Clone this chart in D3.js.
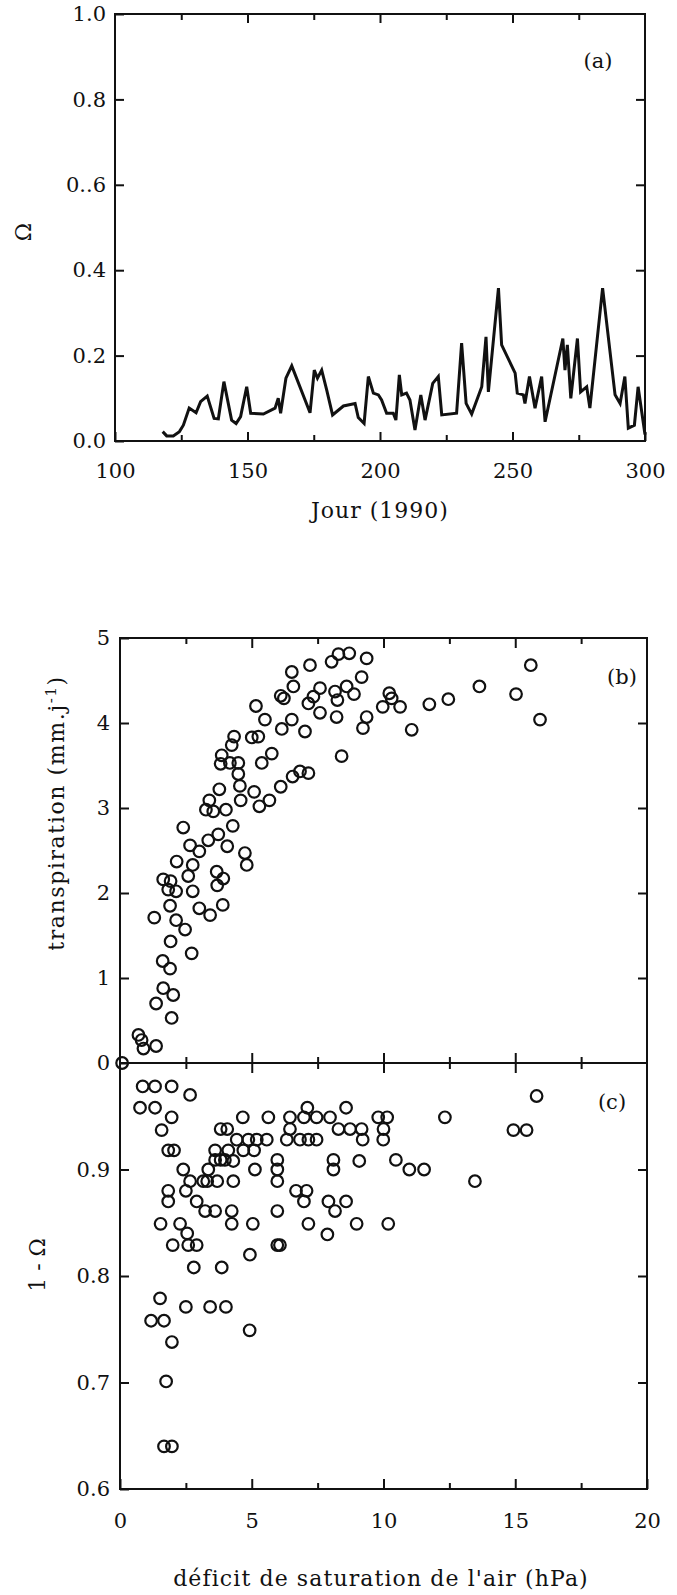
<!DOCTYPE html>
<html>
<head>
<meta charset="utf-8">
<script src="https://cdn.jsdelivr.net/npm/d3@7"></script>
<style>
  body { margin: 0; background: #fff; }
  text { font-family: "DejaVu Serif", "Liberation Serif", serif; fill: #111; }
</style>
</head>
<body>
<script>
// (a) Omega vs day of year
let omegaDays = [118, 119.5, 122, 124.3, 125.8, 128, 130.6, 132.3, 134.8, 137.4,
    139, 141.1, 144, 145.7, 147.4, 149.7, 151.2, 156, 160.4, 161.6,
    162.5, 164.5, 166.7, 173.6, 175.2, 176.4, 178, 179.9, 182.1, 186.2,
    190.6, 191.8, 194, 195.6, 197.5, 199.4, 200.6, 202.5, 205, 206,
    207.3, 208.2, 210, 211.3, 213.2, 215.4, 217, 219.9, 222, 223.3,
    228.9, 230.8, 232.5, 234.6, 238.4, 240, 240.9, 244.7, 245.9, 251,
    251.8, 254.1, 254.7, 256.4, 258.5, 261, 262.3, 269, 269.8, 270.7,
    272, 274.5, 275.7, 278, 279.2, 284, 288.7, 290.6, 292.4, 293.7,
    296, 297.4, 300];
let omegaValues = [0.022, 0.012, 0.012, 0.022, 0.037, 0.077, 0.066, 0.092, 0.105, 0.053,
    0.052, 0.139, 0.049, 0.041, 0.057, 0.127, 0.065, 0.063, 0.077, 0.1,
    0.065, 0.147, 0.176, 0.066, 0.166, 0.147, 0.166, 0.119, 0.061, 0.082,
    0.088, 0.055, 0.041, 0.151, 0.112, 0.108, 0.096, 0.065, 0.065, 0.049,
    0.155, 0.108, 0.112, 0.096, 0.026, 0.108, 0.049, 0.135, 0.151, 0.061,
    0.065, 0.229, 0.088, 0.063, 0.127, 0.244, 0.115, 0.358, 0.225, 0.159,
    0.112, 0.108, 0.088, 0.151, 0.077, 0.151, 0.045, 0.240, 0.166, 0.225,
    0.100, 0.240, 0.115, 0.127, 0.077, 0.358, 0.108, 0.088, 0.151, 0.030,
    0.037, 0.127, 0.015];

// (b) transpiration vs saturation deficit
let deficitB = [0.08, 0.70, 0.82, 0.89, 1.37, 1.37, 1.64, 1.96, 2.02, 1.62,
    1.90, 1.92, 2.72, 1.30, 2.13, 2.47, 1.90, 1.64, 1.92, 2.13,
    1.83, 2.15, 2.40, 2.59, 2.66, 2.76, 2.76, 3.01, 3.01, 3.42,
    3.90, 3.67, 3.69, 3.92, 3.35, 3.73, 4.07, 4.28, 4.74, 4.81,
    3.26, 3.39, 3.54, 3.77, 4.02, 3.86, 3.82, 4.24, 4.33, 4.17,
    4.49, 4.49, 4.55, 4.58, 5.09, 5.29, 5.67, 5.38, 5.76, 5.00,
    5.25, 5.16, 5.50, 6.10, 6.55, 6.83, 7.15, 6.14, 6.10, 6.22,
    6.52, 6.58, 6.52, 7.02, 7.21, 7.15, 7.34, 7.59, 7.59, 8.03,
    8.29, 8.70, 8.16, 8.25, 8.22, 8.60, 8.88, 8.41, 9.17, 9.36,
    9.22, 9.36, 10.22, 10.31, 9.97, 10.63, 11.07, 11.74, 12.46, 13.64,
    15.03, 15.59, 15.94];
let transpiration = [0.0, 0.33, 0.27, 0.17, 0.20, 0.70, 0.88, 0.53, 0.80, 1.20,
    1.11, 1.43, 1.29, 1.71, 1.68, 1.57, 1.85, 2.16, 2.14, 2.02,
    2.04, 2.37, 2.77, 2.20, 2.56, 2.33, 2.02, 2.49, 1.82, 1.74,
    1.86, 2.25, 2.09, 2.17, 2.62, 2.69, 2.55, 2.79, 2.47, 2.33,
    2.98, 3.09, 2.96, 3.22, 2.98, 3.62, 3.52, 3.74, 3.84, 3.53,
    3.53, 3.40, 3.26, 3.09, 3.19, 3.02, 3.09, 3.53, 3.64, 3.83,
    3.84, 4.20, 4.04, 3.25, 3.37, 3.43, 3.41, 3.93, 4.32, 4.29,
    4.04, 4.43, 4.60, 3.90, 4.68, 4.23, 4.31, 4.41, 4.12, 4.72,
    4.81, 4.82, 4.37, 4.27, 4.07, 4.43, 4.34, 3.61, 4.54, 4.76,
    3.94, 4.07, 4.35, 4.29, 4.19, 4.19, 3.92, 4.22, 4.28, 4.43,
    4.34, 4.68, 4.04];

// (c) 1 - Omega vs saturation deficit
let deficitC = [0.86, 1.33, 1.96, 2.66, 0.76, 1.33, 1.96, 1.58, 1.83, 2.05,
    2.40, 2.66, 1.83, 1.83, 2.50, 2.91, 1.54, 2.28, 2.55, 2.00,
    2.59, 2.91, 2.80, 3.86, 1.52, 2.50, 3.42, 4.02, 3.16, 3.31,
    3.69, 4.30, 3.35, 3.61, 3.82, 3.98, 4.30, 3.61, 4.11, 4.68,
    5.09, 3.82, 4.07, 4.43, 4.87, 5.19, 5.57, 4.66, 5.63, 5.12,
    3.23, 3.61, 4.24, 4.24, 5.04, 4.93, 5.97, 5.97, 6.07, 5.97,
    5.97, 5.97, 6.45, 6.45, 6.33, 6.83, 7.15, 7.46, 7.11, 7.46,
    7.97, 6.98, 8.29, 8.58, 8.73, 9.17, 9.21, 9.80, 10.14, 9.99,
    10.00, 8.10, 8.10, 9.08, 6.68, 7.08, 6.98, 7.91, 8.16, 8.58,
    7.15, 8.98, 10.18, 7.87, 10.47, 10.98, 11.54, 12.33, 13.47, 14.93,
    15.43, 15.81, 1.18, 1.67, 1.97, 4.92, 1.75, 1.67, 1.97];
let oneMinusOmega = [0.978, 0.978, 0.978, 0.970, 0.958, 0.958, 0.949, 0.937, 0.918, 0.918,
    0.900, 0.889, 0.880, 0.870, 0.880, 0.870, 0.849, 0.849, 0.840, 0.829,
    0.829, 0.829, 0.808, 0.808, 0.779, 0.771, 0.771, 0.771, 0.889, 0.889,
    0.889, 0.889, 0.900, 0.909, 0.909, 0.909, 0.908, 0.918, 0.918, 0.918,
    0.918, 0.938, 0.938, 0.928, 0.928, 0.928, 0.928, 0.949, 0.949, 0.900,
    0.861, 0.861, 0.861, 0.849, 0.849, 0.820, 0.861, 0.829, 0.829, 0.909,
    0.900, 0.889, 0.949, 0.938, 0.928, 0.928, 0.928, 0.928, 0.958, 0.949,
    0.949, 0.949, 0.938, 0.958, 0.938, 0.938, 0.928, 0.949, 0.949, 0.928,
    0.938, 0.909, 0.900, 0.908, 0.880, 0.880, 0.870, 0.870, 0.861, 0.870,
    0.849, 0.849, 0.849, 0.839, 0.909, 0.900, 0.900, 0.949, 0.889, 0.937,
    0.937, 0.969, 0.758, 0.758, 0.738, 0.749, 0.701, 0.640, 0.640];

// ticks
let dayTicks = [100, 150, 200, 250, 300];
let dayMinorTicks = [125, 175, 225, 275];
let omegaTicks = [0, 0.2, 0.4, 0.6, 0.8, 1.0];
let omegaTickLabels = ["0.0", "0.2", "0.4", "0..6", "0.8", "1.0"];
let deficitTicks = [0, 5, 10, 15, 20];
let deficitMinorTicks = [2.5, 7.5, 12.5, 17.5];
let transpTicks = [0, 1, 2, 3, 4, 5];
let oneMinusTicks = [0.6, 0.7, 0.8, 0.9];

let width = 677;
let height = 1595;
let fontSize = 21;
let ink = "#111";

let svg = d3.select("body")
    .append("svg")
    .attr("width", width)
    .attr("height", height);

let xA = d3.scaleLinear().domain([100, 300]).range([115, 645]);
let yA = d3.scaleLinear().domain([0, 1]).range([441, 14]);
let xB = d3.scaleLinear().domain([0, 20]).range([120, 647]);
let yB = d3.scaleLinear().domain([0, 5]).range([1063, 638]);
let yC = d3.scaleLinear().domain([0.6, 1.0]).range([1489, 1063]);

function styleAxis(g) {
    g.select(".domain").remove();
    g.selectAll("line").attr("stroke", ink).attr("stroke-width", 2);
    g.selectAll("text")
        .attr("font-size", fontSize)
        .attr("font-family", "DejaVu Serif")
        .attr("fill", ink);
}

function addAxis(x, y, axis) {
    svg.append("g")
        .attr("transform", "translate(" + x + "," + y + ")")
        .call(axis)
        .call(styleAxis);
}

function frame(xs, ys) {
    svg.append("rect")
        .attr("x", xs.range()[0])
        .attr("y", ys.range()[1])
        .attr("width", xs.range()[1] - xs.range()[0])
        .attr("height", ys.range()[0] - ys.range()[1])
        .attr("fill", "none")
        .attr("stroke", ink)
        .attr("stroke-width", 2);
}

function scatter(xs, ys, xVals, yVals) {
    svg.append("g")
        .selectAll("circle")
        .data(yVals)
        .enter()
        .append("circle")
            .attr("cx", function(d, i) { return xs(xVals[i]); })
            .attr("cy", function(d) { return ys(d); })
            .attr("r", 5.8)
            .attr("fill", "none")
            .attr("stroke", ink)
            .attr("stroke-width", 2.2);
}

// ---- panel (a)
frame(xA, yA);
addAxis(115, 0, d3.axisLeft(yA).tickValues(omegaTicks).tickSizeInner(-9).tickSizeOuter(0)
    .tickPadding(9).tickFormat(function(d, i) { return omegaTickLabels[i]; }));
addAxis(645, 0, d3.axisRight(yA).tickValues(omegaTicks.slice(1, 5)).tickSizeInner(-9).tickSizeOuter(0).tickFormat(""));
addAxis(0, 441, d3.axisBottom(xA).tickValues(dayTicks).tickSizeInner(-9).tickSizeOuter(0).tickPadding(22));
addAxis(0, 441, d3.axisBottom(xA).tickValues(dayMinorTicks).tickSizeInner(-6).tickSizeOuter(0).tickFormat(""));
addAxis(0, 14, d3.axisTop(xA).tickValues(dayTicks.slice(1, 4)).tickSizeInner(-9).tickSizeOuter(0).tickFormat(""));
addAxis(0, 14, d3.axisTop(xA).tickValues(dayMinorTicks).tickSizeInner(-6).tickSizeOuter(0).tickFormat(""));

let omegaLine = d3.line()
    .x(function(d, i) { return xA(omegaDays[i]); })
    .y(function(d) { return yA(d); });

svg.append("path")
    .datum(omegaValues)
    .attr("d", omegaLine)
    .attr("fill", "none")
    .attr("stroke", ink)
    .attr("stroke-width", 3)
    .attr("stroke-linejoin", "miter");

svg.append("text").attr("x", 598).attr("y", 68).attr("text-anchor", "middle")
    .attr("font-size", fontSize).text("(a)");
svg.append("text").attr("transform", "translate(31,232) rotate(-90)").attr("text-anchor", "middle")
    .attr("font-size", 22).text("Ω");
svg.append("text").attr("x", 380).attr("y", 518).attr("text-anchor", "middle")
    .attr("font-size", 22).attr("letter-spacing", 1).text("Jour (1990)");

// ---- panel (b)
frame(xB, yB);
addAxis(120, 0, d3.axisLeft(yB).tickValues(transpTicks).tickSizeInner(-9).tickSizeOuter(0).tickPadding(10)
    .tickFormat(d3.format("d")));
addAxis(647, 0, d3.axisRight(yB).tickValues(transpTicks.slice(1, 5)).tickSizeInner(-9).tickSizeOuter(0).tickFormat(""));
addAxis(0, 638, d3.axisTop(xB).tickValues(deficitTicks.slice(1, 4)).tickSizeInner(-10).tickSizeOuter(0).tickFormat(""));
addAxis(0, 638, d3.axisTop(xB).tickValues(deficitMinorTicks).tickSizeInner(-6).tickSizeOuter(0).tickFormat(""));
addAxis(0, 1063, d3.axisBottom(xB).tickValues(deficitTicks.slice(1, 4)).tickSizeInner(-10).tickSizeOuter(0).tickFormat(""));
addAxis(0, 1063, d3.axisBottom(xB).tickValues(deficitMinorTicks).tickSizeInner(-6).tickSizeOuter(0).tickFormat(""));

scatter(xB, yB, deficitB, transpiration);

svg.append("text").attr("x", 622).attr("y", 684).attr("text-anchor", "middle")
    .attr("font-size", fontSize).text("(b)");
let tLabel = svg.append("text")
    .attr("transform", "translate(64,813) rotate(-90)")
    .attr("text-anchor", "middle")
    .attr("font-size", 22)
    .attr("letter-spacing", 1.6);
tLabel.append("tspan").text("transpiration (mm.j");
tLabel.append("tspan").attr("dy", -8).attr("font-size", 15).text("-1");
tLabel.append("tspan").attr("dy", 8).text(")");

// ---- panel (c)
frame(xB, yC);
addAxis(120, 0, d3.axisLeft(yC).tickValues(oneMinusTicks).tickSizeInner(-9).tickSizeOuter(0).tickPadding(10)
    .tickFormat(d3.format(".1f")));
addAxis(647, 0, d3.axisRight(yC).tickValues(oneMinusTicks.slice(1)).tickSizeInner(-9).tickSizeOuter(0).tickFormat(""));
addAxis(0, 1063, d3.axisTop(xB).tickValues(deficitTicks.slice(1, 4)).tickSizeInner(-10).tickSizeOuter(0).tickFormat(""));
addAxis(0, 1063, d3.axisTop(xB).tickValues(deficitMinorTicks).tickSizeInner(-6).tickSizeOuter(0).tickFormat(""));
addAxis(0, 1489, d3.axisBottom(xB).tickValues(deficitTicks).tickSizeInner(-10).tickSizeOuter(0).tickPadding(24));
addAxis(0, 1489, d3.axisBottom(xB).tickValues(deficitMinorTicks).tickSizeInner(-6).tickSizeOuter(0).tickFormat(""));

scatter(xB, yC, deficitC, oneMinusOmega);

svg.append("text").attr("x", 612).attr("y", 1109).attr("text-anchor", "middle")
    .attr("font-size", fontSize).text("(c)");
svg.append("text").attr("transform", "translate(45,1265) rotate(-90)").attr("text-anchor", "middle")
    .attr("font-size", 22).text("1 - Ω");
svg.append("text").attr("x", 381).attr("y", 1586).attr("text-anchor", "middle")
    .attr("font-size", 22).attr("letter-spacing", 1.1).text("déficit de saturation de l'air (hPa)");
</script>
</body>
</html>
